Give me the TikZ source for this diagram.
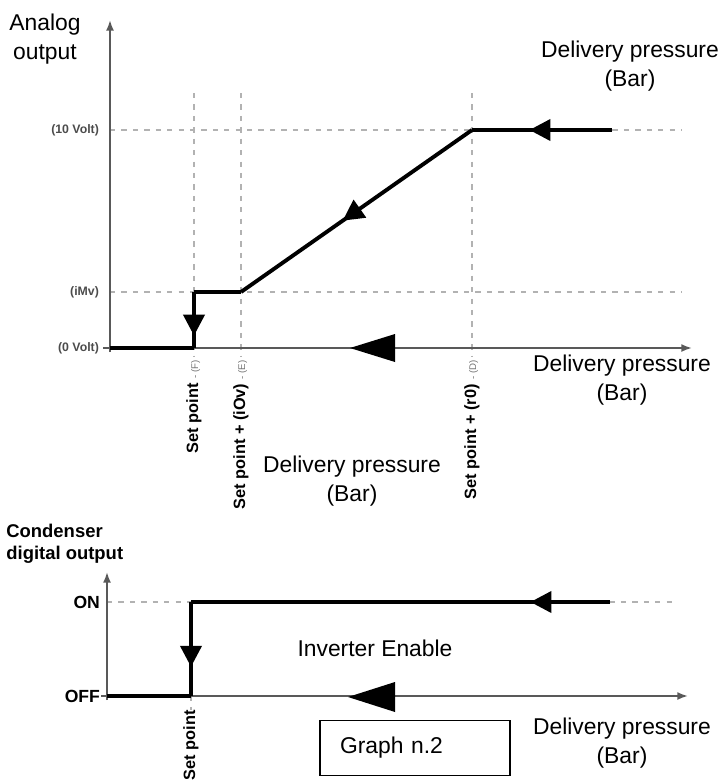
\documentclass[tikz,border=0pt]{standalone}
\usepackage{fontspec}
\setmainfont{Liberation Sans}
\usetikzlibrary{arrows.meta,decorations.markings}

\tikzset{
    axis/.style={draw=black!65, line width=1.1pt, -{Latex[length=6pt,width=4.5pt]}},
    level/.style={draw=black!30, line width=0.7pt, dash pattern=on 3pt off 3.5pt},
    curve/.style={line width=2.2pt},
    midarrow/.style={postaction=decorate, decoration={markings,
        mark=at position #1 with {\arrow{Triangle[length=12pt,width=12pt]}}}},
    bigarrow/.style={fill=black},
    axislabel/.style={font=\fontsize{13}{16.5}\selectfont, align=center, inner sep=0pt},
    valuelabel/.style={anchor=east, inner sep=1pt, text=black!70,
        font=\fontsize{7}{8}\selectfont\bfseries},
    statelabel/.style={anchor=east, inner sep=1pt, font=\fontsize{10}{12}\selectfont\bfseries},
    pointlabel/.style={rotate=90, anchor=east, inner sep=0pt, font=\fontsize{9.3}{11}\selectfont\bfseries},
}
\newcommand{\smallpart}[1]{{\color{black!55}\fontsize{5.5}{6}\selectfont\mdseries #1}}

\begin{document}
\begin{tikzpicture}[x=0.02cm, y=-0.02cm]
    \useasboundingbox (0,0) rectangle (723,782);

    % analog output graph
    \coordinate (O) at (110,348);
    \coordinate (Otop) at (110,20);
    \coordinate (Oleft) at (103,348);
    \coordinate (Xend) at (692,348);
    \coordinate (F) at (194,348);
    \coordinate (Fup) at (194,292);
    \coordinate (E) at (241,292);
    \coordinate (D) at (472,130);
    \coordinate (R) at (612,130);

    \draw[level] (O|-D) -- (682,130);
    \draw[level] (O|-E) -- (682,292);
    \foreach \xx in {194,241,472}
        \draw[level] (\xx,93) -- (\xx,356);

    \draw[axis] (110,352) -- (Otop);
    \draw[axis] (Oleft) -- (Xend);

    \draw[curve, midarrow=0.59] (R) -- (D);
    \draw[curve, midarrow=0.56] (D) -- (E);
    \draw[curve] (E) -- (Fup);
    \draw[curve, midarrow=0.78] (Fup) -- (F);
    \draw[curve] (F) -- (O);

    \fill[bigarrow] (350,348) -- ++(45,-14) -- ++(0,28) -- cycle;

    \node[axislabel] (aout) at (45,39) {Analog\\output};
    \node[axislabel] (ptop) at (630,66) {Delivery pressure\\(Bar)};
    \node[axislabel] (pright) at (622,380) {Delivery pressure\\(Bar)};
    \node[axislabel] (pmid) at (352,481) {Delivery pressure\\(Bar)};

    \node[valuelabel] (v10) at (101,130) {(10 Volt)};
    \node[valuelabel] (vimv) at (101,292) {(iMv)};
    \node[valuelabel] (v0) at (101,348) {(0 Volt)};

    \node[pointlabel] (lF) at (194,360) {Set point \smallpart{- (F)}};
    \node[pointlabel] (lE) at (241,360) {Set point + (iOv) \smallpart{- (E)}};
    \node[pointlabel] (lD) at (472,360) {Set point + (r0) \smallpart{- (D)}};

    % condenser digital output graph
    \coordinate (P) at (107,696);
    \coordinate (Ptop) at (107,572);
    \coordinate (Pleft) at (101,696);
    \coordinate (Pend) at (688,696);
    \coordinate (S) at (191,696);
    \coordinate (Sup) at (191,602);
    \coordinate (T) at (610,602);

    \draw[level] (P|-T) -- (678,602);
    \draw[level] (S) -- (191,710);

    \draw[axis] (107,700) -- (Ptop);
    \draw[axis] (Pleft) -- (Pend);

    \draw[curve, midarrow=0.19] (T) -- (Sup);
    \draw[curve, midarrow=0.69] (Sup) -- (S);
    \draw[curve] (S) -- (P);

    \fill[bigarrow] (348,697) -- ++(47,-15) -- ++(0,30) -- cycle;

    \node[anchor=west, align=left, inner sep=0pt, font=\fontsize{10.5}{12.5}\selectfont\bfseries]
        (cdo) at (6,544) {Condenser\\digital output};
    \node[statelabel] (on) at (102,602) {ON};
    \node[statelabel] (off) at (102,696) {OFF};

    \node[axislabel] (inv) at (375,648) {Inverter Enable};
    \node[axislabel] (pbot) at (622,743) {Delivery pressure\\(Bar)};
    \node[pointlabel] (lS) at (191,710) {Set point};

    \node[draw, line width=0.8pt, minimum width=3.8cm, minimum height=1.1cm,
        text width=3cm, inner xsep=0.4cm, align=left,
        font=\fontsize{13}{15}\selectfont] (graph) at (415,748) {Graph n.2};
\end{tikzpicture}
\end{document}
